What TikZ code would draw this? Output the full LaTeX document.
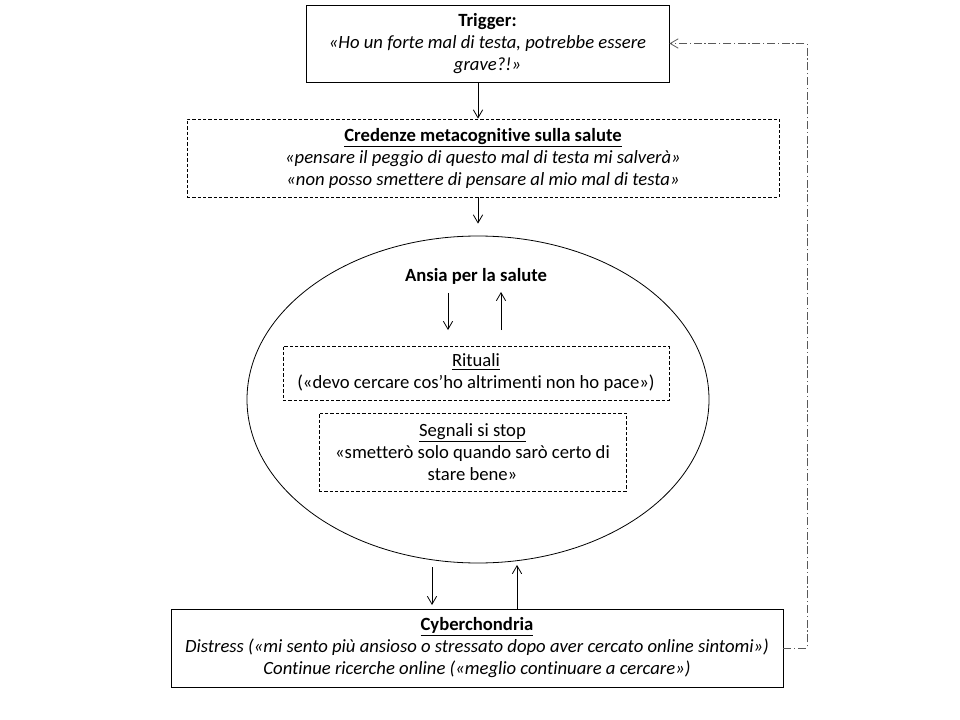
\documentclass[tikz,border=0pt]{standalone}
\usepackage{fontspec}
\setmainfont{Carlito}[Ligatures=NoCommon]
\usepackage{tikz}
\usetikzlibrary{arrows.meta,shapes.geometric}

\begin{document}
\begin{tikzpicture}[x=0.75pt,y=-0.75pt,
		every node/.style={font=\fontsize{14}{16.5}\selectfont,align=center,inner sep=0pt},
		solidbox/.style={draw,line width=0.6pt,rectangle},
		dashbox/.style={draw,line width=0.6pt,rectangle,dash pattern=on 2.5pt off 1.5pt},
		arr/.style={line width=0.6pt,-{Straight Barb[length=6pt,width=7pt]}},
		loopline/.style={line width=0.6pt,black!65,dash pattern=on 6pt off 2pt on 1pt off 2pt,-{Straight Barb[length=6pt,width=7pt]}}]
		\useasboundingbox (0,0) rectangle (960,720);
		\node[solidbox,minimum width=272.25pt,minimum height=57.75pt] (trig) at (487.5,43.5) {\textbf{Trigger:}\\\textit{«Ho un forte mal di testa, potrebbe essere}\\\textit{grave?!»}};
		\node[dashbox,minimum width=444pt,minimum height=58.5pt] (cred) at (483,158) {\textbf{\underline{Credenze metacognitive sulla salute}}\\\textit{«pensare il peggio di questo mal di testa mi salverà»}\\\textit{«non posso smettere di pensare al mio mal di testa»}};
		\node[draw,line width=0.6pt,ellipse,minimum width=346.5pt,minimum height=245.25pt] (ell) at (478,399.5) {};
		\node (ansia) at (476,276) {\textbf{Ansia per la salute}};
		\node[dashbox,minimum width=289.5pt,minimum height=40.5pt] (rit) at (476,373) {\underline{Rituali}\\(«devo cercare cos’ho altrimenti non ho pace»)};
		\node[dashbox,minimum width=230.25pt,minimum height=58.5pt] (seg) at (472.5,452) {\underline{Segnali si stop}\\«smetterò solo quando sarò certo di\\stare bene»};
		\node[solidbox,minimum width=459pt,minimum height=58.5pt] (cyb) at (477,648) {\textbf{\underline{Cyberchondria}}\\\textit{Distress («mi sento più ansioso o stressato dopo aver cercato online sintomi»)}\\\textit{Continue ricerche online («meglio continuare a cercare»)}};
		\coordinate (ad) at (448,293);
		\coordinate (au) at (501,330);
		\coordinate (bd) at (432,567);
		\coordinate (bu) at (517,565);
		\coordinate (fb) at (807,648);
		\draw[arr] (trig.south -| ell.north) -- (cred.north -| ell.north);
		\draw[arr, shorten >=9pt] (cred.south -| ell.north) -- (ell.north);
		\draw[arr] (ad) -- (448,330);
		\draw[arr] (au) -- (501,292);
		\draw[arr] (bd) -- (432,605);
		\draw[arr] (bu |- cyb.north) -- (bu);
		\draw[loopline] (cyb.east) -- (fb) |- (trig.east);
\end{tikzpicture}
\end{document}
